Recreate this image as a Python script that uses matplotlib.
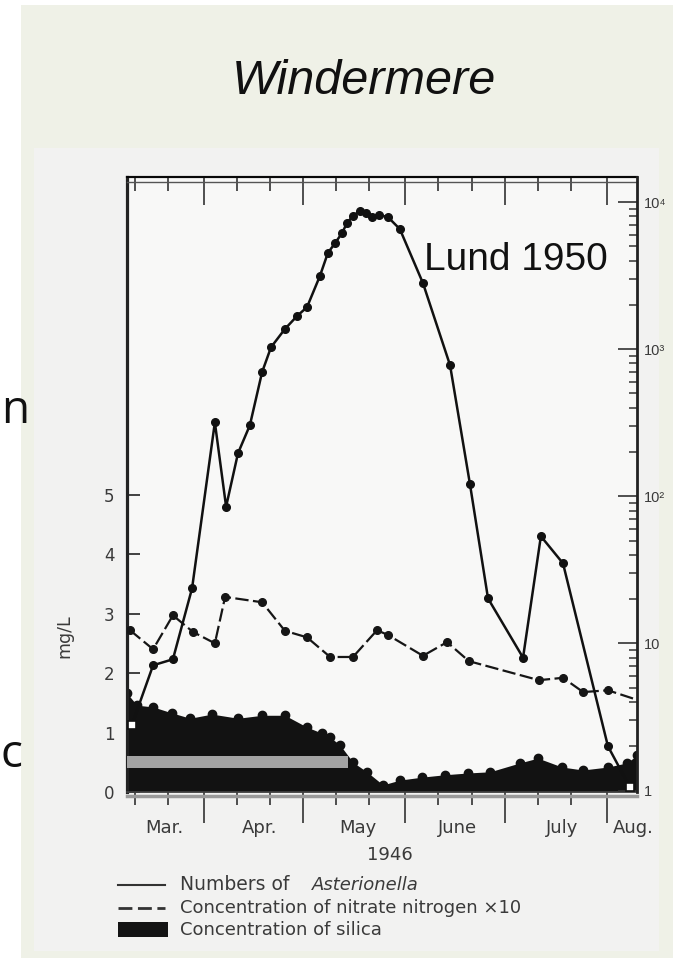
import numpy as np
import matplotlib
matplotlib.use("Agg")
import matplotlib.pyplot as plt
from matplotlib import ticker
from matplotlib.lines import Line2D
from matplotlib.patches import Rectangle

plt.rcParams['font.family'] = ['DejaVu Sans']

# --- data (x = days counted from 1 March 1946) ---
ast_day = [9.2, 15.6, 21.6, 27.4, 34.3, 37.7, 41.3, 44.9, 48.6, 51.3, 55.5, 59.2,
           62.2, 66.1, 68.5, 70.7, 72.8, 74.3, 76.1, 78.2, 80.0, 81.9, 84.0, 86.7,
           90.3, 97.3, 105.5, 111.5, 117.0, 127.6, 133.0, 139.7, 153.3, 160.0]
ast_num = [2.8, 7.1, 7.8, 23.7, 318, 85, 196, 304, 698, 1030, 1370, 1680,
           1930, 3140, 4500, 5260, 6150, 7200, 8030, 8690, 8420, 7900, 8160, 7900,
           6550, 2810, 778, 122, 20.2, 8.0, 53.5, 35, 2.0, 1.05]

nit_day = [8.6, 15.6, 21.6, 27.7, 34.3, 37.4, 48.6, 55.5, 62.2, 69.2, 76.1, 83.4,
           86.7, 97.3, 104.6, 111.2, 132.4, 139.7, 145.8, 153.3, 162.1]
nit_val = [2.72, 2.40, 2.97, 2.69, 2.50, 3.28, 3.19, 2.71, 2.60, 2.27, 2.27, 2.72,
           2.64, 2.29, 2.52, 2.20, 1.88, 1.92, 1.68, 1.71, 1.55]

sil_day = [7.7, 10.7, 15.6, 21.3, 26.8, 33.4, 41.3, 48.6, 55.5, 62.2, 66.7, 69.2,
           72.2, 76.1, 80.3, 85.2, 90.3, 97.0, 103.9, 110.9, 117.6, 126.7, 132.1,
           139.4, 145.7, 153.3, 159.1, 162.1]
sil_val = [1.66, 1.46, 1.43, 1.33, 1.24, 1.31, 1.24, 1.29, 1.29, 1.09, 0.99, 0.92,
           0.79, 0.50, 0.34, 0.12, 0.20, 0.25, 0.29, 0.32, 0.34, 0.49, 0.57,
           0.42, 0.37, 0.42, 0.49, 0.62]

# light band printed inside the silica area
band_day = [7.7, 74.6]
band_lo = [0.40, 0.40]
band_hi = [0.61, 0.61]

month_start = [31, 61, 92, 122, 153]
ten_day = [10, 20, 41, 51, 71, 81, 102, 112, 132, 142]
month_names = ['Mar.', 'Apr.', 'May', 'June', 'July', 'Aug.']
month_pos = [18.9, 47.7, 77.6, 107.9, 139.4, 160.9]

left_ticks = [0, 1, 2, 3, 4, 5]
right_ticks = [1, 10, 100, 1000, 10000]
right_labels = ['1', '10', '10²', '10³', '10⁴']

INK = '#3a3a3a'

# --- figure in pixel units ---
W, H = 673, 968
fig = plt.figure(figsize=(W / 100, H / 100), dpi=100)
fig.patch.set_facecolor('white')


def fx(px):
    return px / W


def fy(py):
    return 1 - py / H


# slide background and the scanned page
fig.add_artist(Rectangle((fx(21), fy(958)), (W - 21) / W, (958 - 5) / H,
                         transform=fig.transFigure, facecolor='#eff1e7',
                         edgecolor='none', zorder=-3))
fig.add_artist(Rectangle((fx(34), fy(951)), (659 - 34) / W, (951 - 148) / H,
                         transform=fig.transFigure, facecolor='#f2f2f1',
                         edgecolor='none', zorder=-2))

ax = fig.add_axes([fx(127), fy(792), (637 - 127) / W, (792 - 177) / H])
ax.set_facecolor('#f8f8f7')
ax.set_xlim(7.7, 162.1)
ax.set_ylim(0, 10.34)

# silica
ax.fill_between(sil_day, 0, sil_val, color='#121212', lw=0, zorder=2)
ax.plot(sil_day, sil_val, 'o', ms=6, color='#121212', zorder=2)
ax.fill_between(band_day, band_lo, band_hi, color='#a3a3a3', lw=0, zorder=3)

# nitrate nitrogen x10
ax.plot(nit_day, nit_val, color='#161616', lw=1.6, dashes=(6, 2),
        marker='o', ms=5.5, markevery=list(range(len(nit_day) - 1)), zorder=4)

# Asterionella, log scale on the right
ax2 = ax.twinx()
ax2.set_yscale('log')
ax2.set_ylim(10 ** -0.01, 10 ** 4.17)
ax2.plot(ast_day, ast_num, color='#111111', lw=1.8, marker='o', ms=5.5,
         markevery=list(range(1, len(ast_day) - 1)), zorder=5)
ax2.plot([ast_day[0], ast_day[-1]], [ast_num[0], ast_num[-1]], 's', ms=6,
         mfc='white', mec='#111111', mew=1.2, zorder=6)

# x ticks: bottom outward, top inward
ax.set_xticks(month_start)
ax.set_xticks(ten_day, minor=True)
ax.tick_params(axis='x', which='major', direction='out', length=22, width=1.2,
               color='#333333', labelbottom=False)
ax.tick_params(axis='x', which='minor', direction='out', length=9, width=1.2,
               color='#333333')
sec = ax.secondary_xaxis('top')
sec.set_xticks(month_start)
sec.set_xticks(ten_day, minor=True)
sec.tick_params(axis='x', which='major', direction='in', length=20, width=1.2,
                color='#333333', labeltop=False)
sec.tick_params(axis='x', which='minor', direction='in', length=10, width=1.2,
                color='#333333')
sec.spines['top'].set_linewidth(1.6)
sec.spines['top'].set_color('#333333')

# y ticks
ax.set_yticks(left_ticks)
ax.tick_params(axis='y', direction='in', length=9, width=1.3, pad=9,
               labelsize=12, labelcolor=INK, color='#333333')
ax2.set_yticks(right_ticks)
ax2.set_yticklabels(right_labels)
ax2.yaxis.set_minor_locator(ticker.LogLocator(base=10, subs=np.arange(2, 10)))
ax2.yaxis.set_minor_formatter(ticker.NullFormatter())
ax2.tick_params(axis='y', which='major', direction='in', length=14, width=1.2,
                pad=5, labelsize=10.5, labelcolor=INK, color='#333333')
ax2.tick_params(axis='y', which='minor', direction='in', length=6, width=1.1,
                color='#333333')
for lbl in ax2.get_yticklabels():
    lbl.set_fontfamily(['Liberation Sans', 'DejaVu Sans'])

for s in ['left', 'top', 'bottom']:
    ax2.spines[s].set_visible(False)
ax2.spines['right'].set_linewidth(2)
ax2.spines['right'].set_color('#222222')
ax.spines['left'].set_linewidth(2.3)
ax.spines['left'].set_color('#222222')
ax.spines['right'].set_visible(False)
ax.spines['top'].set_linewidth(1.2)
ax.spines['bottom'].set_linewidth(1.2)
ax.spines['bottom'].set_color('#444444')

# double rules along top and bottom
ax.plot([0, 1], [0.992, 0.992], transform=ax.transAxes, color='#555555',
        lw=1, clip_on=False, zorder=6)
ax.plot([0, 1], [-0.006, -0.006], transform=ax.transAxes, color='#9a9a9a',
        lw=2.5, clip_on=False, zorder=6)

fig.text(fx(64), fy(636), 'mg/L', rotation=90, ha='center', va='center',
         fontsize=12.5, color=INK)

for name, pos in zip(month_names, month_pos):
    ax.text(pos, -0.058, name, transform=ax.get_xaxis_transform(), ha='center',
            va='center', fontsize=13, color=INK)
fig.text(fx(390), fy(855), '1946', ha='center', va='center', fontsize=13,
         color=INK)

# legend drawn by hand like the printed key
fig.add_artist(Line2D([fx(118), fx(165)], [fy(885), fy(885)], color='#333333',
                      lw=1.5))
fig.text(fx(180), fy(885), 'Numbers of', va='center', fontsize=13.5,
         color=INK)
fig.text(fx(312), fy(885), 'Asterionella', va='center', fontsize=13,
         style='italic', color=INK)
fig.add_artist(Line2D([fx(118), fx(165)], [fy(908), fy(908)], color='#333333',
                      lw=2, dashes=(5, 2)))
fig.text(fx(180), fy(908), 'Concentration of nitrate nitrogen ×10',
         va='center', fontsize=13, color=INK)
fig.add_artist(Rectangle((fx(118), fy(937)), 50 / W, 15 / H,
                         transform=fig.transFigure, facecolor='#141414',
                         edgecolor='none'))
fig.text(fx(180), fy(930), 'Concentration of silica', va='center',
         fontsize=13, color=INK)

# slide texts
fig.text(fx(364), fy(94), 'Windermere', ha='center', va='baseline',
         fontsize=35, style='italic', color='#111111',
         family=['Liberation Sans', 'DejaVu Sans'])
fig.text(fx(424), fy(270), 'Lund 1950', ha='left', va='baseline',
         fontsize=28, color='#111111', family=['Liberation Sans', 'DejaVu Sans'])
fig.text(0.001, fy(423), 'n', ha='left', va='baseline', fontsize=33,
         color='#111111', family=['Open Sans', 'DejaVu Sans'])
fig.text(0.001, fy(767), 'c', ha='left', va='baseline', fontsize=33,
         color='#111111', family=['Open Sans', 'DejaVu Sans'])

fig.savefig('out.png', dpi=100, facecolor=fig.get_facecolor())
